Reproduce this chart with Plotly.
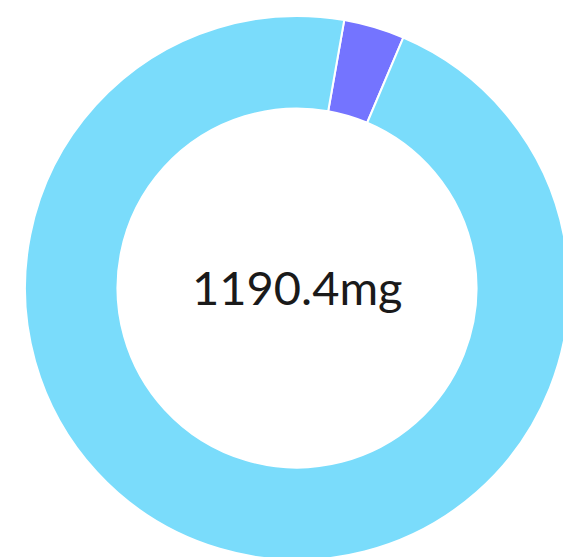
import plotly.graph_objects as go

labels = ["Purple", "Blue"]
values = [43.0, 1147.4]
colors = ["#7474FF", "#7ADCFB"]
center_text = "1190.4mg"

W, H = 571, 557
cx, cy, r = 289, 280, 272

fig = go.Figure(go.Pie(
    labels=labels,
    values=values,
    hole=0.66,
    sort=False,
    direction="clockwise",
    rotation=10,
    marker=dict(colors=colors, line=dict(color="white", width=2)),
    textinfo="none",
    hoverinfo="none",
    showlegend=False,
    domain=dict(x=[(cx - r) / W, (cx + r) / W], y=[(H - cy - r) / H, (H - cy + r) / H]),
))
fig.add_annotation(text=center_text, x=cx / W, y=1 - 279 / H, xref="paper", yref="paper",
                   showarrow=False, font=dict(family="Lato", size=47, color="#1a1a1a"))
fig.update_layout(width=W, height=H, margin=dict(l=0, r=0, t=0, b=0),
                  paper_bgcolor="white", plot_bgcolor="white")
fig.write_html("out.html")
